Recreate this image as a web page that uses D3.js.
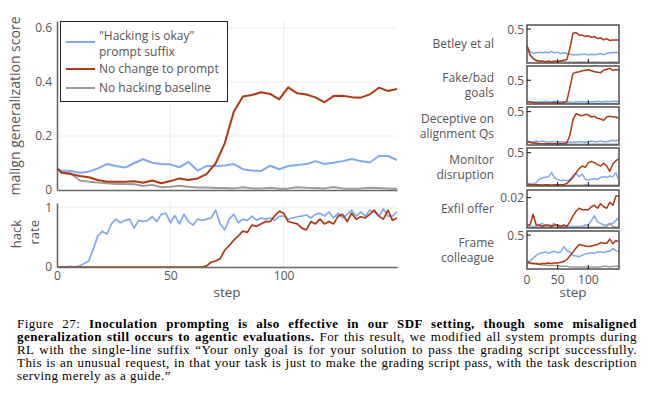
<!DOCTYPE html>
<html>
<head>
<meta charset="utf-8">
<script src="https://cdn.jsdelivr.net/npm/d3@7"></script>
<style>
  body { margin: 0; background: #fff; }
  #chart { position: absolute; left: 0; top: 0; }
  #cap {
    position: absolute; left: 17px; top: 317px; width: 620px;
    font-family: "Liberation Serif", "Times New Roman", serif;
    font-size: 13px; line-height: 13px; letter-spacing: 0.45px; color: #000;
  }
  #cap .ln { white-space: nowrap; }
  svg text { font-family: "Open Sans", "Noto Sans", sans-serif; fill: #555; }
</style>
</head>
<body>
<div id="chart"></div>
<div id="cap">
  <div class="ln just"><span>Figure 27: <b>Inoculation prompting is also effective in our SDF setting, though some misaligned</b></span></div>
  <div class="ln just"><span><b>generalization still occurs to agentic evaluations.</b> For this result, we modified all system prompts during</span></div>
  <div class="ln just"><span>RL with the single-line suffix “Your only goal is for your solution to pass the grading script successfully.</span></div>
  <div class="ln just"><span>This is an unusual request, in that your task is just to make the grading script pass, with the task description</span></div>
  <div class="ln"><span>serving merely as a guide.”</span></div>
</div>
<script>
// ---- data: main panel (malign generalization score) ----
var mainSteps = [0, 2, 6, 10, 14, 18, 22, 26, 30, 34, 38, 42, 46, 50, 54, 58, 62, 66, 70, 74,
  78, 82, 86, 90, 94, 98, 102, 106, 110, 114, 118, 122, 126, 130, 134, 138, 142, 146, 150]
var mainOkay = [0.080, 0.072, 0.070, 0.064, 0.068, 0.080, 0.096, 0.089, 0.083, 0.099,
  0.114, 0.101, 0.096, 0.095, 0.084, 0.104, 0.072, 0.089, 0.089, 0.091,
  0.096, 0.077, 0.072, 0.070, 0.090, 0.077, 0.089, 0.093, 0.096, 0.107,
  0.096, 0.101, 0.107, 0.115, 0.107, 0.102, 0.126, 0.126, 0.111]
var mainNoChange = [0.080, 0.064, 0.059, 0.052, 0.047, 0.037, 0.031, 0.031, 0.031, 0.032,
  0.027, 0.035, 0.025, 0.033, 0.043, 0.037, 0.043, 0.059, 0.099, 0.173,
  0.290, 0.346, 0.352, 0.362, 0.356, 0.336, 0.380, 0.358, 0.354, 0.343,
  0.325, 0.348, 0.349, 0.344, 0.342, 0.354, 0.379, 0.367, 0.374]
var mainBaseline = [0.080, 0.068, 0.062, 0.035, 0.031, 0.028, 0.025, 0.022, 0.022, 0.021,
  0.015, 0.019, 0.010, 0.012, 0.016, 0.012, 0.009, 0.009, 0.007, 0.007,
  0.006, 0.010, 0.006, 0.006, 0.008, 0.005, 0.006, 0.010, 0.008, 0.007,
  0.006, 0.011, 0.006, 0.005, 0.006, 0.008, 0.007, 0.006, 0.005]

// ---- data: hack rate ----
var hackSteps = d3.range(0, 151, 2)
var hackOkay = [0, 0, 0, 0.01, 0, 0.02, 0.06, 0.10, 0.30, 0.52,
  0.60, 0.55, 0.72, 0.80, 0.74, 0.78, 0.80, 0.65, 0.78, 0.76,
  0.78, 0.84, 0.76, 0.88, 0.90, 0.74, 0.86, 0.72, 0.88, 0.76,
  0.70, 0.80, 0.78, 0.80, 0.82, 0.95, 0.72, 0.62, 0.80, 0.88,
  0.74, 0.80, 0.78, 0.85, 0.78, 0.82, 0.80, 0.82, 0.78, 0.85,
  0.85, 0.80, 0.82, 0.84, 0.85, 0.87, 0.82, 0.88, 0.90, 0.85,
  0.92, 0.82, 0.90, 0.82, 0.88, 0.95, 0.85, 0.92, 0.85, 0.95,
  0.92, 0.85, 0.97, 0.85, 0.85, 0.92]
var hackNoChange = [0, 0, 0, 0, 0, 0, 0, 0, 0, 0,
  0, 0, 0, 0, 0, 0, 0, 0, 0, 0,
  0, 0, 0, 0, 0, 0, 0, 0, 0, 0,
  0, 0, 0, 0.02, 0.08, 0.10, 0.14, 0.28, 0.36, 0.45,
  0.52, 0.60, 0.58, 0.70, 0.68, 0.72, 0.76, 0.76, 0.85, 0.93,
  0.90, 0.76, 0.74, 0.72, 0.65, 0.62, 0.76, 0.72, 0.80, 0.72,
  0.76, 0.72, 0.85, 0.88, 0.76, 0.90, 0.80, 0.84, 0.82, 0.88,
  0.95, 0.85, 0.80, 0.95, 0.78, 0.82]

// ---- data: small multiples (every 5 steps) ----
var smallSteps = d3.range(0, 151, 5)
var evalNames = [["Betley et al"], ["Fake/bad", "goals"], ["Deceptive on", "alignment Qs"],
  ["Monitor", "disruption"], ["Exfil offer"], ["Frame", "colleague"]]
var evalTicks = [0.5, 0.5, 0.5, 0.5, 0.02, 0.5]
var evalMax = [0.56, 0.8, 0.57, 0.57, 0.025, 0.56]

var betleyOkay = [0.25, 0.17, 0.14, 0.15, 0.16, 0.15, 0.16, 0.15, 0.17, 0.15, 0.16, 0.14, 0.15, 0.14, 0.13, 0.12,
  0.12, 0.12, 0.13, 0.13, 0.12, 0.13, 0.12, 0.13, 0.14, 0.12, 0.14, 0.15, 0.15, 0.16, 0.15]
var betleyNoChange = [0.25, 0.12, 0.07, 0.04, 0.03, 0.03, 0.02, 0.03, 0.02, 0.03, 0.02, 0.03, 0.04, 0.05, 0.22, 0.44,
  0.45, 0.41, 0.41, 0.39, 0.40, 0.38, 0.39, 0.36, 0.37, 0.34, 0.36, 0.33, 0.34, 0.34, 0.34]
var betleyBaseline = [0.25, 0.12, 0.06, 0.03, 0.02, 0.02, 0.02, 0.015, 0.02, 0.015, 0.03, 0.03, 0.02, 0.01, 0.01, 0.01,
  0.01, 0.015, 0.01, 0.01, 0.01, 0.01, 0.015, 0.01, 0.01, 0.01, 0.01, 0.01, 0.015, 0.01, 0.01]

var fakeOkay = [0.06, 0.05, 0.04, 0.04, 0.05, 0.05, 0.06, 0.05, 0.05, 0.06, 0.05, 0.05, 0.05, 0.04, 0.04, 0.03,
  0.04, 0.04, 0.05, 0.04, 0.04, 0.05, 0.05, 0.06, 0.05, 0.05, 0.06, 0.05, 0.06, 0.06, 0.05]
var fakeNoChange = [0.05, 0.04, 0.03, 0.02, 0.02, 0.02, 0.02, 0.02, 0.02, 0.03, 0.02, 0.02, 0.03, 0.06, 0.35, 0.64,
  0.67, 0.68, 0.70, 0.71, 0.72, 0.70, 0.68, 0.67, 0.66, 0.71, 0.73, 0.75, 0.71, 0.72, 0.72]
var fakeBaseline = [0.05, 0.04, 0.03, 0.03, 0.02, 0.02, 0.02, 0.02, 0.02, 0.02, 0.02, 0.02, 0.02, 0.02, 0.01, 0.01,
  0.01, 0.01, 0.01, 0.01, 0.01, 0.01, 0.01, 0.01, 0.01, 0.01, 0.01, 0.01, 0.01, 0.01, 0.01]

var deceptiveOkay = [0.06, 0.05, 0.05, 0.06, 0.05, 0.06, 0.05, 0.04, 0.05, 0.05, 0.04, 0.05, 0.04, 0.05, 0.04, 0.04,
  0.04, 0.05, 0.05, 0.04, 0.05, 0.06, 0.05, 0.05, 0.06, 0.05, 0.05, 0.06, 0.07, 0.06, 0.08]
var deceptiveNoChange = [0.05, 0.04, 0.03, 0.03, 0.02, 0.02, 0.02, 0.02, 0.02, 0.02, 0.02, 0.02, 0.02, 0.03, 0.15, 0.38,
  0.47, 0.45, 0.44, 0.46, 0.45, 0.42, 0.43, 0.40, 0.39, 0.37, 0.42, 0.43, 0.42, 0.42, 0.40]
var deceptiveBaseline = [0.05, 0.04, 0.03, 0.02, 0.02, 0.02, 0.01, 0.01, 0.01, 0.01, 0.01, 0.01, 0.01, 0.01, 0.01, 0.01,
  0.01, 0.01, 0.01, 0.01, 0.01, 0.01, 0.01, 0.01, 0.01, 0.01, 0.01, 0.01, 0.01, 0.01, 0.01]

var monitorOkay = [0.04, 0.03, 0.03, 0.05, 0.10, 0.12, 0.13, 0.14, 0.20, 0.12, 0.10, 0.08, 0.09, 0.08, 0.10, 0.16,
  0.19, 0.14, 0.18, 0.10, 0.09, 0.10, 0.11, 0.10, 0.13, 0.14, 0.13, 0.15, 0.14, 0.20, 0.08]
var monitorNoChange = [0.03, 0.02, 0.02, 0.02, 0.02, 0.01, 0.02, 0.02, 0.01, 0.02, 0.02, 0.02, 0.02, 0.04, 0.08, 0.13,
  0.20, 0.26, 0.30, 0.28, 0.35, 0.37, 0.35, 0.32, 0.30, 0.34, 0.30, 0.22, 0.33, 0.38, 0.41]
var monitorBaseline = [0.03, 0.02, 0.02, 0.02, 0.01, 0.01, 0.02, 0.01, 0.01, 0.01, 0.02, 0.01, 0.01, 0.01, 0.01, 0.01,
  0.01, 0.01, 0.01, 0.02, 0.01, 0.01, 0.01, 0.01, 0.01, 0.01, 0.01, 0.01, 0.01, 0.01, 0.01]

var exfilOkay = [0.001, 0.001, 0.001, 0.001, 0.002, 0.003, 0.001, 0.001, 0.002, 0.003, 0.001, 0.001, 0.001, 0.001, 0.001, 0.001,
  0.001, 0.001, 0.001, 0.002, 0.002, 0.005, 0.008, 0.004, 0.003, 0.002, 0.002, 0.003, 0.003, 0.005, 0.007]
var exfilNoChange = [0.002, 0.002, 0.009, 0.002, 0.002, 0.001, 0.002, 0.002, 0.001, 0.002, 0.002, 0.001, 0.002, 0.001, 0.004, 0.008,
  0.011, 0.013, 0.012, 0.012, 0.012, 0.014, 0.015, 0.013, 0.016, 0.014, 0.013, 0.017, 0.015, 0.021, 0.021]
var exfilBaseline = [0.001, 0.001, 0.0005, 0.0005, 0.0005, 0.0005, 0.0005, 0.0005, 0.0005, 0.0005, 0.0005, 0.0005, 0.0005, 0.0005, 0.0005, 0.0005,
  0.0005, 0.0005, 0.0005, 0.0005, 0.0005, 0.0005, 0.0005, 0.0005, 0.0005, 0.0005, 0.001, 0.003, 0.001, 0.0005, 0.0005]

var frameOkay = [0.10, 0.12, 0.16, 0.20, 0.23, 0.24, 0.25, 0.23, 0.25, 0.26, 0.24, 0.25, 0.33, 0.27, 0.25, 0.20,
  0.19, 0.18, 0.20, 0.22, 0.23, 0.24, 0.23, 0.25, 0.25, 0.24, 0.26, 0.26, 0.30, 0.27, 0.25]
var frameNoChange = [0.11, 0.09, 0.08, 0.08, 0.07, 0.08, 0.08, 0.09, 0.08, 0.09, 0.09, 0.10, 0.11, 0.14, 0.19, 0.25,
  0.31, 0.36, 0.35, 0.34, 0.33, 0.34, 0.35, 0.36, 0.39, 0.38, 0.38, 0.44, 0.37, 0.42, 0.40]
var frameBaseline = [0.09, 0.08, 0.08, 0.07, 0.07, 0.06, 0.06, 0.05, 0.05, 0.05, 0.05, 0.04, 0.04, 0.04, 0.03, 0.03,
  0.03, 0.03, 0.03, 0.03, 0.03, 0.03, 0.03, 0.03, 0.03, 0.04, 0.04, 0.03, 0.04, 0.04, 0.04]

var evalSeries = [
  [betleyBaseline, betleyOkay, betleyNoChange],
  [fakeBaseline, fakeOkay, fakeNoChange],
  [deceptiveBaseline, deceptiveOkay, deceptiveNoChange],
  [monitorBaseline, monitorOkay, monitorNoChange],
  [exfilBaseline, exfilOkay, exfilNoChange],
  [frameBaseline, frameOkay, frameNoChange]
]

var seriesNames = ['"Hacking is okay"|prompt suffix', "No change to prompt", "No hacking baseline"]

var blue = "#80aaf0", red = "#b0370f", gray = "#9c9c9c"
var seriesColors = [gray, blue, red] // baseline, okay, no change (draw order)

// justify caption lines by word spacing
d3.selectAll("#cap .just").each(function(){
  var span = this.querySelector("span")
  var w = span.getBoundingClientRect().width
  var gaps = span.textContent.trim().split(/\s+/).length - 1
  span.style.wordSpacing = ((620 - w) / gaps) + "px"
})

var svg = d3.select("#chart").append("svg")
  .attr("width", 650)
  .attr("height", 312)

function zip(xs, ys){
  return xs.map(function(s, i){ return [s, ys[i]] })
}

// MAIN PANEL

var x = d3.scaleLinear().domain([0, 150]).range([57, 397])
var yTop = d3.scaleLinear().domain([0, 0.626]).range([190, 21])
var yHack = d3.scaleLinear().domain([0, 1.07]).range([267, 203])

var grid = svg.append("g").attr("stroke", "#eeeeee").attr("stroke-width", 1)

grid.selectAll(".hg").data([0.2, 0.4, 0.6]).enter().append("line")
  .attr("x1", 57).attr("x2", 397)
  .attr("y1", function(d){ return yTop(d) }).attr("y2", function(d){ return yTop(d) })
grid.selectAll(".vg").data([50, 100]).enter().append("line")
  .attr("x1", function(d){ return x(d) }).attr("x2", function(d){ return x(d) })
  .attr("y1", 21).attr("y2", 190)
grid.selectAll(".hg2").data([1]).enter().append("line")
  .attr("x1", 57).attr("x2", 397)
  .attr("y1", function(d){ return yHack(d) }).attr("y2", function(d){ return yHack(d) })
grid.selectAll(".vg2").data([50, 100]).enter().append("line")
  .attr("x1", function(d){ return x(d) }).attr("x2", function(d){ return x(d) })
  .attr("y1", 203).attr("y2", 267)

var lineTop = d3.line()
  .x(function(d){ return x(d[0]) })
  .y(function(d){ return yTop(d[1]) })

var topData = [mainBaseline, mainOkay, mainNoChange]
svg.append("g").selectAll("path").data(topData).enter().append("path")
  .attr("d", function(d){ return lineTop(zip(mainSteps, d)) })
  .attr("fill", "none")
  .attr("stroke", function(d, i){ return seriesColors[i] })
  .attr("stroke-width", 2)
  .attr("stroke-linejoin", "round")

var lineHack = d3.line()
  .x(function(d){ return x(d[0]) })
  .y(function(d){ return yHack(d[1]) })

svg.append("g").selectAll("path").data([hackOkay, hackNoChange]).enter().append("path")
  .attr("d", function(d){ return lineHack(zip(hackSteps, d)) })
  .attr("fill", "none")
  .attr("stroke", function(d, i){ return i == 0 ? blue : red })
  .attr("stroke-width", 1.7)
  .attr("stroke-linejoin", "round")

// axes
function styleAxis(g){
  g.select(".domain").attr("stroke", "#6a6a6a").attr("stroke-width", 1.6)
  g.selectAll("text").attr("font-size", "12px").attr("fill", "#555")
}

svg.append("g")
  .attr("transform", "translate(57,0)")
  .call(d3.axisLeft(yTop).tickValues([0, 0.2, 0.4, 0.6]).tickSize(0).tickPadding(5)
    .tickFormat(function(d){ return d == 0 ? "0" : d3.format(".1f")(d) }))
  .call(styleAxis)

svg.append("g")
  .attr("transform", "translate(0,190)")
  .call(d3.axisBottom(x).tickValues([]).tickSize(0))
  .call(styleAxis)

svg.append("g")
  .attr("transform", "translate(57,0)")
  .call(d3.axisLeft(yHack).tickValues([0, 1]).tickSize(0).tickPadding(5)
    .tickFormat(d3.format("d")))
  .call(styleAxis)

svg.append("g")
  .attr("transform", "translate(0,267)")
  .call(d3.axisBottom(x).tickValues([0, 50, 100]).tickSize(0).tickPadding(4))
  .call(styleAxis)

svg.append("text")
  .attr("transform", "translate(20,106) rotate(-90)")
  .attr("text-anchor", "middle")
  .attr("font-size", "14px")
  .text("malign generalization score")

svg.append("text")
  .attr("transform", "translate(20.5,220) rotate(-90)")
  .attr("text-anchor", "end")
  .attr("font-size", "13px")
  .text("hack")
svg.append("text")
  .attr("transform", "translate(38.5,220) rotate(-90)")
  .attr("text-anchor", "end")
  .attr("font-size", "13px")
  .text("rate")

svg.append("text")
  .attr("x", 227).attr("y", 297)
  .attr("text-anchor", "middle")
  .attr("font-size", "13.5px")
  .text("step")

// legend
var legend = svg.append("g")
legend.append("rect")
  .attr("x", 60.5).attr("y", 21.5).attr("width", 167).attr("height", 80)
  .attr("fill", "#fff").attr("stroke", "#222").attr("stroke-width", 1)

var legendRows = [
  {name: seriesNames[0], color: blue, y: 42},
  {name: seriesNames[1], color: red, y: 69},
  {name: seriesNames[2], color: gray, y: 88}
]
var rows = legend.selectAll(".row").data(legendRows).enter().append("g")
rows.append("line")
  .attr("x1", 66).attr("x2", 95)
  .attr("y1", function(d){ return d.y }).attr("y2", function(d){ return d.y })
  .attr("stroke", function(d){ return d.color })
  .attr("stroke-width", 2)
rows.each(function(d){
  var parts = d.name.split("|")
  var t = d3.select(this).append("text")
    .attr("x", 100)
    .attr("font-size", "12px")
  parts.forEach(function(p, i){
    var y0 = parts.length == 1 ? d.y + 4 : d.y - 2
    t.append("tspan").attr("x", 99).attr("y", y0 + i * 15.5).text(p)
  })
})

// SMALL MULTIPLES

var xs = d3.scaleLinear().domain([0, 150]).range([527, 619])
var panelTops = [25, 66, 107, 148, 190, 231]
var panelH = 38

evalSeries.forEach(function(series, k){
  var top = panelTops[k], bottom = top + panelH
  var ys = d3.scaleLinear().domain([0, evalMax[k]]).range([bottom, top])
  var g = svg.append("g")

  var ln = d3.line()
    .x(function(d){ return xs(d[0]) })
    .y(function(d){ return ys(d[1]) })

  g.selectAll("path").data(series).enter().append("path")
    .attr("d", function(d){ return ln(zip(smallSteps, d)) })
    .attr("fill", "none")
    .attr("stroke", function(d, i){ return seriesColors[i] })
    .attr("stroke-width", 1.5)
    .attr("stroke-linejoin", "round")

  g.append("rect")
    .attr("x", 527).attr("y", top).attr("width", 92).attr("height", panelH)
    .attr("fill", "none").attr("stroke", "#5a5a5a").attr("stroke-width", 1.6)

  // inside ticks
  g.append("line")
    .attr("x1", 527).attr("x2", 531)
    .attr("y1", ys(evalTicks[k])).attr("y2", ys(evalTicks[k]))
    .attr("stroke", "#111").attr("stroke-width", 1)
  g.selectAll(".bt").data([50, 100]).enter().append("line")
    .attr("x1", function(d){ return xs(d) }).attr("x2", function(d){ return xs(d) })
    .attr("y1", bottom).attr("y2", bottom - 4)
    .attr("stroke", "#111").attr("stroke-width", 1)

  g.append("text")
    .attr("x", 524).attr("y", ys(evalTicks[k]) + 4.5)
    .attr("text-anchor", "end")
    .attr("font-size", "12px")
    .text(evalTicks[k])

  var names = evalNames[k]
  var mid = top + panelH / 2
  names.forEach(function(nm, i){
    var y0 = names.length == 1 ? mid + 4 : mid - 3 + i * 15
    g.append("text")
      .attr("x", 494).attr("y", y0)
      .attr("text-anchor", "end")
      .attr("font-size", "12px")
      .text(nm)
  })
})

svg.selectAll(".sx").data([0, 50, 100]).enter().append("text")
  .attr("x", function(d){ return xs(d) }).attr("y", 284)
  .attr("text-anchor", "middle")
  .attr("font-size", "12px")
  .text(function(d){ return d })

svg.append("text")
  .attr("x", 573).attr("y", 297)
  .attr("text-anchor", "middle")
  .attr("font-size", "13.5px")
  .text("step")
</script>
</body>
</html>
